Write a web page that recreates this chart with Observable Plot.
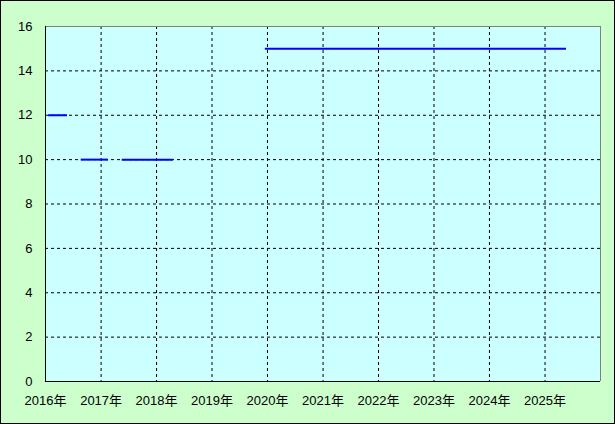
<!DOCTYPE html>
<html>
<head>
<meta charset="utf-8">
<script src="https://cdn.jsdelivr.net/npm/d3@7"></script>
<script src="https://cdn.jsdelivr.net/npm/@observablehq/plot@0.6"></script>
<style>
  html, body { margin: 0; padding: 0; background: #ccffcc; }
  #chart svg { display: block; outline: 1px solid #000; outline-offset: -1px; }
</style>
</head>
<body>
<div id="chart"></div>
<script>
// Segment data (start date, end date, value)
const segStart = ["2016-01-21", "2016-08-23", "2017-05-20", "2019-12-18"];
const segEnd   = ["2016-05-25", "2017-02-19", "2018-04-22", "2025-05-22"];
const segValue = [12, 10, 10, 15];

// Axis ticks
const yearTicks = [2016, 2017, 2018, 2019, 2020, 2021, 2022, 2023, 2024, 2025];
const yTicks = [0, 2, 4, 6, 8, 10, 12, 14, 16];
const yGrid = [2, 4, 6, 8, 10, 12, 14];

const parse = d3.utcParse("%Y-%m-%d");
const segs = segValue.map((v, i) => ({x1: parse(segStart[i]), x2: parse(segEnd[i]), y: v}));
const yearDates = yearTicks.map(y => new Date(Date.UTC(y, 0, 1)));
const gridX = yearDates.slice(1);
const xMin = new Date(Date.UTC(2016, 0, 1));
const xMax = new Date(Date.UTC(2026, 0, 1));

const chart = Plot.plot({
  width: 615,
  height: 424,
  marginLeft: 45,
  marginTop: 26,
  marginRight: 15,
  marginBottom: 43,
  style: {background: "#ccffcc", color: "#000", fontFamily: "'Liberation Sans', 'Noto Sans CJK JP', sans-serif", fontSize: "13px"},
  x: {type: "utc", domain: [xMin, xMax]},
  y: {domain: [0, 16]},
  marks: [
    Plot.frame({fill: "#ccffff", stroke: null}),
    Plot.ruleY(yGrid, {stroke: "#000", strokeDasharray: "3,3", strokeWidth: 1}),
    Plot.ruleX(gridX, {stroke: "#000", strokeDasharray: "3,3", strokeWidth: 1}),
    Plot.ruleY([16], {stroke: "#808080", strokeWidth: 1}),
    Plot.ruleX([xMax], {stroke: "#808080", strokeWidth: 1}),
    Plot.ruleY([0], {stroke: "#000", strokeWidth: 1}),
    Plot.ruleX([xMin], {stroke: "#000", strokeWidth: 1}),
    Plot.ruleY(segs, {x1: "x1", x2: "x2", y: "y", stroke: "#0000ff", strokeWidth: 2}),
    Plot.axisY(yTicks, {tickSize: 0, tickPadding: 13, fontSize: 13, label: null}),
    Plot.axisX(yearDates, {tickSize: 0, tickPadding: 14, fontSize: 13, label: null, tickFormat: d => d.getUTCFullYear() + "年"})
  ]
});
document.getElementById("chart").append(chart);
</script>
</body>
</html>
